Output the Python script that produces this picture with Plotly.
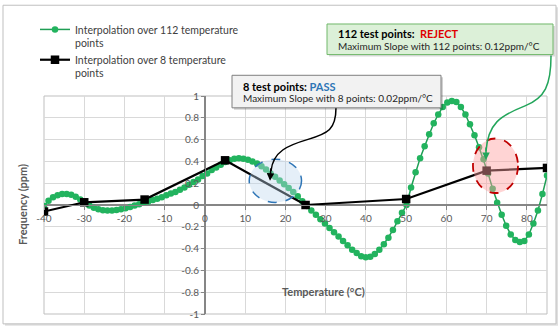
import plotly.graph_objects as go

# ---------------- data ----------------
temp_112 = [-40.00, -38.87, -37.75, -36.62, -35.50, -34.37, -33.24, -32.12, -30.99, -29.86,
            -28.74, -27.61, -26.49, -25.36, -24.23, -23.11, -21.98, -20.86, -19.73, -18.60,
            -17.48, -16.35, -15.23, -14.10, -12.97, -11.85, -10.72, -9.59, -8.47, -7.34,
            -6.22, -5.09, -3.96, -2.84, -1.71, -0.59, 0.54, 1.67, 2.79, 3.92,
            5.05, 6.17, 7.30, 8.42, 9.55, 10.68, 11.80, 12.93, 14.05, 15.18,
            16.31, 17.43, 18.56, 19.68, 20.81, 21.94, 23.06, 24.19, 25.32, 26.44,
            27.57, 28.69, 29.82, 30.95, 32.07, 33.20, 34.32, 35.45, 36.58, 37.70,
            38.83, 39.95, 41.08, 42.21, 43.33, 44.46, 45.59, 46.71, 47.84, 48.96,
            50.09, 51.22, 52.34, 53.47, 54.59, 55.72, 56.85, 57.97, 59.10, 60.23,
            61.35, 62.48, 63.60, 64.73, 65.86, 66.98, 68.11, 69.23, 70.36, 71.49,
            72.61, 73.74, 74.86, 75.99, 77.12, 78.24, 79.37, 80.50, 81.62, 82.75,
            83.87, 85.00]
freq_112 = [-0.01, 0.04, 0.07, 0.09, 0.10, 0.10, 0.095, 0.075, 0.05, 0.025,
            -0.005, -0.025, -0.04, -0.048, -0.05, -0.05, -0.046, -0.04, -0.03, -0.018,
            -0.005, 0.008, 0.02, 0.032, 0.045, 0.058, 0.072, 0.09, 0.105, 0.12,
            0.14, 0.16, 0.185, 0.21, 0.235, 0.265, 0.29, 0.32, 0.345, 0.37,
            0.395, 0.41, 0.425, 0.43, 0.425, 0.415, 0.40, 0.38, 0.355, 0.325,
            0.29, 0.26, 0.225, 0.19, 0.155, 0.12, 0.08, 0.035, -0.01, -0.05,
            -0.09, -0.13, -0.17, -0.21, -0.25, -0.29, -0.33, -0.37, -0.41, -0.44,
            -0.47, -0.48, -0.475, -0.45, -0.41, -0.36, -0.30, -0.23, -0.15, -0.07,
            0.0, 0.16, 0.30, 0.43, 0.54, 0.65, 0.75, 0.83, 0.90, 0.94,
            0.955, 0.945, 0.90, 0.83, 0.74, 0.64, 0.53, 0.42, 0.29, 0.15,
            0.02, -0.09, -0.19, -0.27, -0.32, -0.34, -0.33, -0.27, -0.17, -0.05,
            0.10, 0.27]

temp_8 = [-40, -30, -15, 5, 25, 50, 70, 85]
freq_8 = [-0.06, 0.025, 0.05, 0.41, 0.0, 0.055, 0.315, 0.34]

x_tick_vals = [-40, -30, -20, -10, 0, 10, 20, 30, 40, 50, 60, 70, 80]
x_tick_text = ["-40", "-30", "-20", "-10", "0", "10", "20", "30", "40", "50", "60", "70", "80"]
y_tick_vals = [-1, -0.8, -0.6, -0.4, -0.2, 0, 0.2, 0.4, 0.6, 0.8, 1]
y_tick_text = ["-1", "-0.8", "-0.6", "-0.4", "-0.2", "0", "0.2", "0.4", "0.6", "0.8", "1"]

name_112 = "Interpolation over 112 temperature<br>points"
name_8 = "Interpolation over 8 temperature<br>points"

# ---------------- layout helpers (pixel -> paper) ----------------
W, H = 560, 332
ML, MR, MT, MB = 44, 13, 96, 15
PW, PH = W - ML - MR, H - MT - MB


def px(p):
    return (p - ML) / PW


def py(p):
    return (H - MB - p) / PH


FONT = "Lato, 'Open Sans', sans-serif"
GREY_TXT = "#595959"

fig = go.Figure()
fig.add_trace(go.Scatter(
    x=temp_112, y=freq_112, mode="lines+markers", name=name_112,
    line=dict(color="#1f9e55", width=1.5),
    marker=dict(color="#22b35e", size=6.5, symbol="circle"),
))
fig.add_trace(go.Scatter(
    x=temp_8, y=freq_8, mode="lines+markers", name=name_8,
    line=dict(color="#000000", width=2.2),
    marker=dict(color="#000000", size=8.5, symbol="square"),
))

shapes = []
# outer chart border with light shadow
shapes.append(dict(type="rect", xref="paper", yref="paper", layer="below",
                   x0=px(5), x1=px(558), y0=py(329), y1=py(6),
                   line=dict(width=0), fillcolor="rgba(0,0,0,0.12)"))
shapes.append(dict(type="rect", xref="paper", yref="paper", layer="below",
                   x0=px(3), x1=px(556), y0=py(327), y1=py(4),
                   line=dict(color="#bfbfbf", width=1), fillcolor="white"))
# plot area border
shapes.append(dict(type="rect", xref="paper", yref="paper", layer="below",
                   x0=0, x1=1, y0=0, y1=1, line=dict(color="#bfbfbf", width=1)))
# ellipses (above data)
shapes.append(dict(type="circle", xref="x", yref="y", layer="above",
                   x0=11.0, x1=24.0, y0=0.024, y1=0.42,
                   line=dict(color="#2e75b6", width=1.5, dash="dash"),
                   fillcolor="rgba(189,215,238,0.40)"))
shapes.append(dict(type="circle", xref="x", yref="y", layer="above",
                   x0=66.6, x1=77.8, y0=0.11, y1=0.61,
                   line=dict(color="#c00000", width=1.8, dash="dash"),
                   fillcolor="rgba(255,160,160,0.45)"))


def path_px(pts):
    (x0, y0), rest = pts[0], pts[1:]
    s = f"M {px(x0):.4f},{py(y0):.4f}"
    for i in range(0, len(rest), 3):
        (a, b), (c, d), (e, f) = rest[i:i + 3]
        s += f" C {px(a):.4f},{py(b):.4f} {px(c):.4f},{py(d):.4f} {px(e):.4f},{py(f):.4f}"
    return s


# curved callout arrows
shapes.append(dict(type="path", xref="paper", yref="paper", layer="above",
                   path=path_px([(336, 108), (336, 130), (328, 134), (308, 140),
                                 (288, 146), (273, 152), (271, 172)]),
                   line=dict(color="#000000", width=1.5)))
shapes.append(dict(type="path", xref="paper", yref="paper", layer="above",
                   path=path_px([(551, 55), (551, 85), (545, 98), (525, 106),
                                 (500, 116), (488, 124), (486, 152)]),
                   line=dict(color="#22a55a", width=1.5)))
# callout boxes (shadow + box)
shapes.append(dict(type="rect", xref="paper", yref="paper", layer="above",
                   x0=px(234), x1=px(443), y0=py(110), y1=py(77),
                   line=dict(width=0), fillcolor="rgba(0,0,0,0.18)"))
shapes.append(dict(type="rect", xref="paper", yref="paper", layer="above",
                   x0=px(232), x1=px(441), y0=py(108), y1=py(75),
                   line=dict(color="#7f7f7f", width=1), fillcolor="#f2f2f2"))
shapes.append(dict(type="rect", xref="paper", yref="paper", layer="above",
                   x0=px(329), x1=px(555), y0=py(56), y1=py(25),
                   line=dict(width=0), fillcolor="rgba(0,0,0,0.15)"))
shapes.append(dict(type="rect", xref="paper", yref="paper", layer="above",
                   x0=px(327), x1=px(553), y0=py(54), y1=py(23),
                   line=dict(color="#70b86a", width=1), fillcolor="#dcf0d8"))

annotations = [
    # box texts
    dict(xref="paper", yref="paper", x=px(241), y=py(86), xanchor="left", yanchor="middle",
         showarrow=False, font=dict(family=FONT, size=11, color="#000000"),
         text="<b>8 test points: <span style='color:#2e75b6'>PASS</span></b>"),
    dict(xref="paper", yref="paper", x=px(241), y=py(98), xanchor="left", yanchor="middle",
         showarrow=False, font=dict(family=FONT, size=10, color="#262626"),
         text="Maximum Slope with 8 points: 0.02ppm/°C"),
    dict(xref="paper", yref="paper", x=px(336), y=py(33), xanchor="left", yanchor="middle",
         showarrow=False, font=dict(family=FONT, size=11, color="#000000"),
         text="<b>112 test points:  <span style='color:#e00000'>REJECT</span></b>"),
    dict(xref="paper", yref="paper", x=px(336), y=py(45), xanchor="left", yanchor="middle",
         showarrow=False, font=dict(family=FONT, size=10, color="#262626"),
         text="Maximum Slope with 112 points: 0.12ppm/°C"),
    # arrow heads
    dict(xref="paper", yref="paper", x=px(270), y=py(182), ax=1, ay=-14, text="",
         showarrow=True, arrowhead=2, arrowsize=1, arrowwidth=1.5, arrowcolor="#000000"),
    dict(xref="paper", yref="paper", x=px(486), y=py(161), ax=0, ay=-14, text="",
         showarrow=True, arrowhead=2, arrowsize=1, arrowwidth=1.5, arrowcolor="#22a55a"),
    # axis titles
    dict(xref="paper", yref="paper", x=px(22), y=0.5, textangle=-90, showarrow=False,
         xanchor="center", yanchor="middle",
         font=dict(family=FONT, size=11, color=GREY_TXT), text="<b>Frequency (ppm)</b>"),
    dict(xref="paper", yref="paper", x=px(323), y=py(294), showarrow=False,
         xanchor="center", yanchor="middle",
         font=dict(family=FONT, size=11, color=GREY_TXT), text="<b>Temperature (°C)</b>"),
]

fig.update_layout(
    width=W, height=H, autosize=False,
    margin=dict(l=ML, r=MR, t=MT, b=MB, pad=0),
    paper_bgcolor="white", plot_bgcolor="white",
    font=dict(family=FONT, size=10, color=GREY_TXT),
    showlegend=True,
    legend=dict(x=px(35), y=py(15), xanchor="left", yanchor="top",
                bgcolor="rgba(0,0,0,0)", valign="top", tracegroupgap=7,
                font=dict(family=FONT, size=10.5, color="#404040")),
    xaxis=dict(range=[-40, 85], tickvals=x_tick_vals, ticktext=x_tick_text,
               anchor="free", position=0.5, showline=True, linecolor="#868686",
               ticks="outside", ticklen=4, tickcolor="#868686",
               showgrid=True, gridcolor="#d9d9d9", zeroline=True, zerolinecolor="#868686",
               tickfont=dict(family=FONT, size=10, color=GREY_TXT)),
    yaxis=dict(range=[-1, 1], tickvals=y_tick_vals, ticktext=y_tick_text,
               anchor="free", position=40 / 125, showline=True, linecolor="#868686",
               ticks="outside", ticklen=4, tickcolor="#868686",
               showgrid=True, gridcolor="#d9d9d9", zeroline=True, zerolinecolor="#868686",
               tickfont=dict(family=FONT, size=10, color=GREY_TXT)),
    shapes=shapes,
    annotations=annotations,
)

fig.write_html("out.html")
